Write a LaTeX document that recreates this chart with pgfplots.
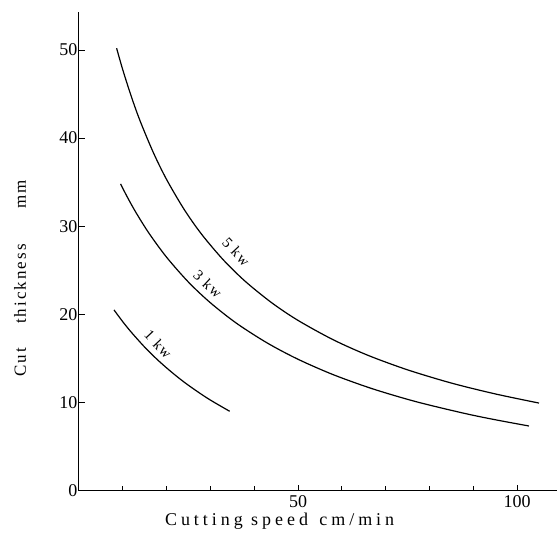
\documentclass[border=0pt]{standalone}
\usepackage{fontspec}
\setmainfont{Liberation Serif}
\usepackage{pgfplots}
\pgfplotsset{compat=1.18}
\newfontfamily\xlblfont[LetterSpace=22]{Liberation Serif}
\newfontfamily\ylblfont[LetterSpace=12]{Liberation Serif}
\newfontfamily\kwfont[LetterSpace=10]{Liberation Serif}
\begin{document}
\begin{tikzpicture}
\begin{axis}[
  scale only axis, width=478pt, height=479pt,
  xmin=0, xmax=109, ymin=0, ymax=54.3,
  axis lines=left,
  axis line style={-, line width=0.9pt},
  xtick={50,100},
  minor xtick={10,20,30,40,60,70,80,90},
  ytick={0,10,20,30,40,50},
  tick align=inside,
  major tick length=6pt, minor tick length=5pt,
  tick style={line width=0.7pt, black},
  /pgf/number format/assume math mode=true,
  tick label style={font=\fontsize{18}{18}\selectfont},
  xticklabel style={yshift=-1pt},
  yticklabel style={xshift=2pt},
  xlabel={\xlblfont\fontsize{18}{18}\selectfont Cutting speed \hspace{3pt}cm/min},
  ylabel={\ylblfont\fontsize{17}{17}\selectfont Cut\hspace{24pt}thickness\hspace{36pt}mm},
  every axis x label/.style={at={(axis cs:45.8,0)}, yshift=-31pt, anchor=center},
  every axis y label/.style={at={(axis cs:0,24.1)}, xshift=-59pt, anchor=center, rotate=90},
  clip=false,
]
% 5 kw
\addplot[black, line width=1.2pt, smooth] coordinates {
  (8.6,50.19) (10,47.75) (12,44.64) (14,41.89) (17,38.33) (20,35.30)
  (24,31.91) (28,29.08) (33,26.15) (38,23.72) (44,21.31) (50,19.31)
  (58,17.12) (66,15.34) (75,13.70) (85,12.20) (95,10.97) (105,9.93)
};
% 3 kw
\addplot[black, line width=1.2pt, smooth] coordinates {
  (9.5,34.80) (11,33.34) (13,31.56) (16,29.19) (20,26.48) (25,23.65)
  (30,21.31) (36,18.97) (43,16.74) (50,14.90) (58,13.16) (67,11.55)
  (77,10.08) (88,8.76) (95,8.04) (102.7,7.33)
};
% 1 kw
\addplot[black, line width=1.2pt, smooth] coordinates {
  (8,20.50) (10,19.16) (12,17.94) (15,16.28) (18,14.81) (21,13.50)
  (24,12.31) (27,11.25) (30,10.27) (34.4,9.00)
};
\node[rotate=-47, font=\kwfont\fontsize{15}{15}\selectfont] at (axis cs:35.9,27.1) {5 kw};
\node[rotate=-43, font=\kwfont\fontsize{15}{15}\selectfont] at (axis cs:29.4,23.4) {3 kw};
\node[rotate=-47, font=\kwfont\fontsize{15}{15}\selectfont] at (axis cs:18.1,16.6) {1 kw};
\end{axis}
\path (current axis.north west) ++(-79pt,12pt) coordinate (tl);
\path (current axis.south east) ++(0pt,-58pt) coordinate (br);
\path (tl) (br);
\end{tikzpicture}
\end{document}
